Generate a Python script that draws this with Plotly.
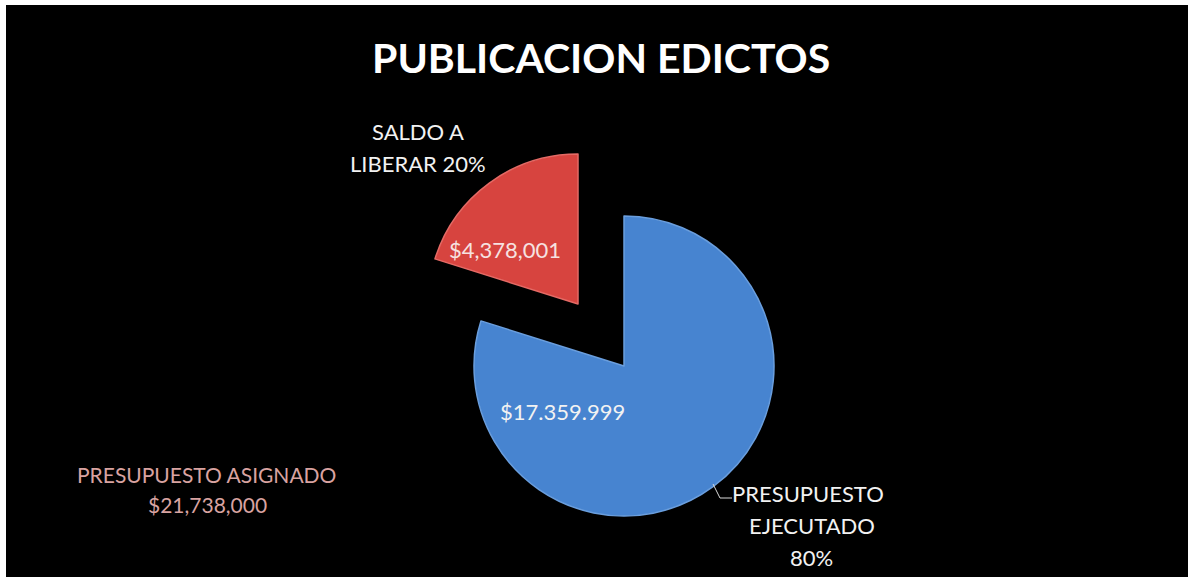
import plotly.graph_objects as go

# Budget data for the edicts publication line item
categories = ["PRESUPUESTO EJECUTADO", "SALDO A LIBERAR"]
amounts = [17359999, 4378001]
amount_labels = ["$17.359.999", "$4,378,001"]
assigned_label = "PRESUPUESTO ASIGNADO"
assigned_total = 21738000
slice_colors = ["#4784D0", "#D7443F"]
edge_colors = ["#6A9EDD", "#E46A65"]

total = sum(amounts)
shares = [round(v / total * 100) for v in amounts]

W, H = 1188, 577
ML, MT = 6, 5
PW, PH = W - ML, H - MT


def px(x):
    return (x - ML) / PW


def py(y):
    return (H - y) / PH


def square_domain(cx, cy, r):
    return dict(x=[px(cx - r), px(cx + r)], y=[py(cy + r), py(cy - r)])


fig = go.Figure()

# Each slice is its own pie so the small one can sit apart from the large one
centers = [(624, 366, 150), (578, 304, 150)]
for i, (cx, cy, r) in enumerate(centers):
    colors = ["rgba(0,0,0,0)"] * len(amounts)
    colors[i] = slice_colors[i]
    lines = ["rgba(0,0,0,0)"] * len(amounts)
    lines[i] = edge_colors[i]
    fig.add_trace(go.Pie(
        labels=categories,
        values=amounts,
        sort=False,
        direction="clockwise",
        rotation=0,
        marker=dict(colors=colors, line=dict(color=lines, width=1.5)),
        textinfo="none",
        hoverinfo="skip",
        showlegend=False,
        domain=square_domain(cx, cy, r),
    ))

font = "Lato, 'Open Sans', sans-serif"
txt = "#F2F2F2"


def label(text, x, y, size=22, color=txt, bold=False):
    if bold:
        text = f"<b>{text}</b>"
    fig.add_annotation(
        text=text, x=px(x), y=py(y), xref="paper", yref="paper",
        showarrow=False, xanchor="center", yanchor="middle",
        font=dict(family=font, size=size, color=color),
    )


label("PUBLICACION EDICTOS", 601, 57, size=41, color="#FFFFFF", bold=True)

# Outside labels
label("SALDO A", 418, 131)
label(f"LIBERAR {shares[1]}%", 418, 163)
label("PRESUPUESTO", 808, 493)
label("EJECUTADO", 812, 525)
label(f"{shares[0]}%", 811, 557)
label(assigned_label, 206, 474, size=21, color="#D9A3A1")
label(f"${assigned_total:,}", 207, 504, size=21, color="#D9A3A1")

# Values inside the slices
label(amount_labels[0], 562, 411)
label(amount_labels[1], 505, 249, color="#F6E2E1")

# Leader line for the executed share
fig.add_shape(
    type="path", xref="paper", yref="paper",
    path=f"M {px(713)} {py(484)} L {px(720)} {py(498)} L {px(732)} {py(498)}",
    line=dict(color="#D8D8D8", width=1),
)

# Black chart area inside the thin white frame
fig.add_shape(
    type="rect", xref="paper", yref="paper", x0=0, x1=1, y0=0, y1=1,
    fillcolor="#000000", line=dict(width=0), layer="below",
)

fig.update_layout(
    width=W, height=H,
    margin=dict(l=ML, r=0, t=MT, b=0),
    paper_bgcolor="#FFFFFF",
    plot_bgcolor="#000000",
)

fig.write_html("out.html")
